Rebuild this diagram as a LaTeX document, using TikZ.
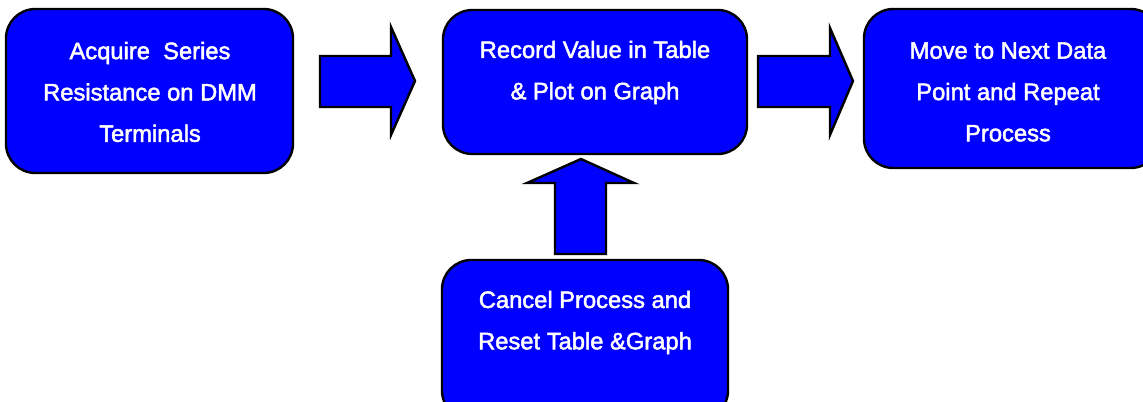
\documentclass[tikz,border=0pt]{standalone}
\usepackage{fontspec}
\setmainfont{Liberation Sans}
\newfontfamily\lblfont{Liberation Sans}[FakeBold=2]
\begin{document}
\begin{tikzpicture}[x=0.75pt,y=-0.75pt,
  stepbox/.style={draw=black,line width=1.8pt,fill=blue,rounded corners=22pt,inner sep=0pt},
  boxtext/.style={text=white,align=center,inner sep=0pt,
    font=\lblfont\fontsize{17.8}{31}\selectfont},
  blockarrow/.style={draw=black,line width=1.8pt,fill=blue,line join=miter}]
\useasboundingbox (0,0) rectangle (1143,402);
\clip (0,0) rectangle (1143,402);

% process boxes
\draw[stepbox] (6,9) rectangle (293,173);
\draw[stepbox] (443,10) rectangle (747,154);
\draw[stepbox] (864,9) rectangle (1160,168);
\draw[stepbox] (442,260) rectangle (728,420);

% box captions
\node[boxtext] (acq) at (150,92) {Acquire~~Series\\Resistance on DMM\\Terminals};
\node[boxtext] (rec) at (595,72.5) {Record Value in Table\\\& Plot on Graph};
\node[boxtext] (nxt) at (1008,92) {Move to Next Data\\Point and Repeat\\Process};
\node[boxtext] (cnc) at (585,322.5) {Cancel Process and\\Reset Table \&Graph};

% block arrows
\draw[blockarrow] (320,56) -- (391,56) -- (391,27) -- (415,81) -- (391,135) -- (391,107) -- (320,107) -- cycle;
\draw[blockarrow] (758,56) -- (830,56) -- (830,28) -- (853,81) -- (830,135) -- (830,107) -- (758,107) -- cycle;
\draw[blockarrow] (555,254) -- (555,183) -- (527,183) -- (581,159) -- (634,183) -- (606,183) -- (606,254) -- cycle;
\end{tikzpicture}
\end{document}
